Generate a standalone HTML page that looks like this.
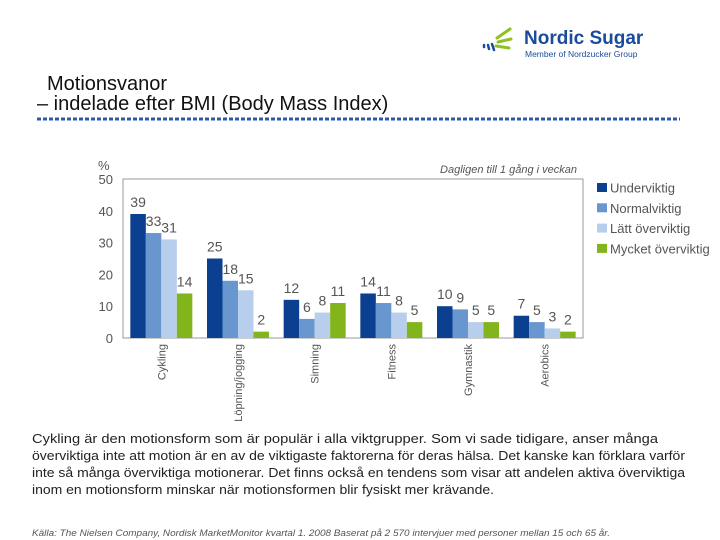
<!DOCTYPE html>
<html><head><meta charset="utf-8"><style>
html,body{margin:0;padding:0;background:#fff;}
svg{display:block;font-family:"Liberation Sans",sans-serif;}
</style></head><body>
<svg id="s" width="720" height="540" viewBox="0 0 720 540">
<g>
 <g fill="none" stroke-linecap="round">
  <path d="M497 38 L510 29" stroke="#8dc21f" stroke-width="3"/>
  <path d="M498 42 L511 39" stroke="#8dc21f" stroke-width="3"/>
  <path d="M496 46 L509 48" stroke="#8dc21f" stroke-width="3"/>
  <path d="M492 44 L494 50" stroke="#1a4c9c" stroke-width="2.5"/>
  <path d="M488 45 L489 49" stroke="#1a4c9c" stroke-width="2.5"/>
  <path d="M484 45 L484 47" stroke="#1a4c9c" stroke-width="2.5"/>
 </g>
 <text x="524" y="44" font-size="19" font-weight="bold" fill="#1a4c9c">Nordic Sugar</text>
 <text x="525" y="57" font-size="8.5" fill="#1a4c9c">Member of Nordzucker Group</text>
</g>
<text x="47" y="90" font-size="20" fill="#111">Motionsvanor</text>
<text x="37" y="110" font-size="20" fill="#111">– indelade efter BMI (Body Mass Index)</text>
<line x1="37" y1="119" x2="680" y2="119" stroke="#2a5aa8" stroke-width="3" stroke-dasharray="4 2"/>
<text x="98" y="170" font-size="13" fill="#555">%</text>
<text x="577" y="173" font-size="11" font-style="italic" fill="#555" text-anchor="end">Dagligen till 1 gång i veckan</text>
<rect x="123" y="179" width="460" height="159" fill="none" stroke="#999" stroke-width="1"/>
<g id="yax"></g>
<g id="bars"></g>
<g id="xax"></g>
<g id="leg"></g>
<g font-size="13" fill="#222">
 <text x="32" y="443" textLength="626" lengthAdjust="spacingAndGlyphs">Cykling är den motionsform som är populär i alla viktgrupper. Som vi sade tidigare, anser många</text>
 <text x="32" y="460" textLength="653" lengthAdjust="spacingAndGlyphs">överviktiga inte att motion är en av de viktigaste faktorerna för deras hälsa. Det kanske kan förklara varför</text>
 <text x="32" y="477" textLength="653" lengthAdjust="spacingAndGlyphs">inte så många överviktiga motionerar. Det finns också en tendens som visar att andelen aktiva överviktiga</text>
 <text x="32" y="494" textLength="462" lengthAdjust="spacingAndGlyphs">inom en motionsform minskar när motionsformen blir fysiskt mer krävande.</text>
</g>
<text x="32" y="536" font-size="9" font-style="italic" fill="#555" textLength="578" lengthAdjust="spacingAndGlyphs">Källa: The Nielsen Company, Nordisk MarketMonitor kvartal 1. 2008 Baserat på 2 570 intervjuer med personer mellan 15 och 65 år.</text>
</svg>
<script>
const categories=["Cykling","Löpning/jogging","Simning","Fitness","Gymnastik","Aerobics"];
const underviktig=[39,25,12,14,10,7];
const normalviktig=[33,18,6,11,9,5];
const lattOverviktig=[31,15,8,8,5,3];
const mycketOverviktig=[14,2,11,5,5,2];
const seriesNames=["Underviktig","Normalviktig","Lätt överviktig","Mycket överviktig"];
const yTicks=[0,10,20,30,40,50];

const NS="http://www.w3.org/2000/svg";
const colors=["#0b3f8f","#6896cf","#b7cfec","#82b41c"];
const series=[underviktig,normalviktig,lattOverviktig,mycketOverviktig];
const X0=123,W=460,Y0=338,H=159;
const y=v=>Y0-v/50*H;
const gw=W/categories.length,bw=15.5,pad=(gw-4*bw)/2;
function mk(t,a,p){const e=document.createElementNS(NS,t);for(const k in a)e.setAttribute(k,a[k]);p.appendChild(e);return e;}
const yax=document.getElementById('yax');
yTicks.forEach(t=>{
 const e=mk('text',{x:113,y:y(t)+5,'font-size':13,fill:'#555','text-anchor':'end'},yax);
 e.textContent=t;
 
 
});
const bars=document.getElementById('bars');
categories.forEach((c,i)=>{
 series.forEach((s,j)=>{
  const bx=X0+i*gw+pad+j*bw;
  const r=mk('rect',{x:bx,y:y(s[i]),width:bw,height:Y0-y(s[i]),fill:colors[j]},bars);
  
  
  const l=mk('text',{x:bx+bw/2,y:y(s[i])-7,'font-size':14,fill:'#555','text-anchor':'middle'},bars);
  l.textContent=s[i];
  
  
 });
});
const xax=document.getElementById('xax');
categories.forEach((c,i)=>{
 const cx=X0+i*gw+gw/2;
 const e=mk('text',{x:0,y:0,'font-size':11,fill:'#555','text-anchor':'end',transform:`translate(${cx+4},344) rotate(-90)`},xax);
 e.textContent=c;
 
 
});
const leg=document.getElementById('leg');
seriesNames.forEach((n,j)=>{
 const ly=188+j*20.3;
 const r=mk('rect',{x:597,y:ly-5,width:10,height:9,fill:colors[j]},leg);
 
 
 const t=mk('text',{x:610,y:ly+4.5,'font-size':13,fill:'#555'},leg);
 t.textContent=n;
 
 
});
</script>
</body></html>
